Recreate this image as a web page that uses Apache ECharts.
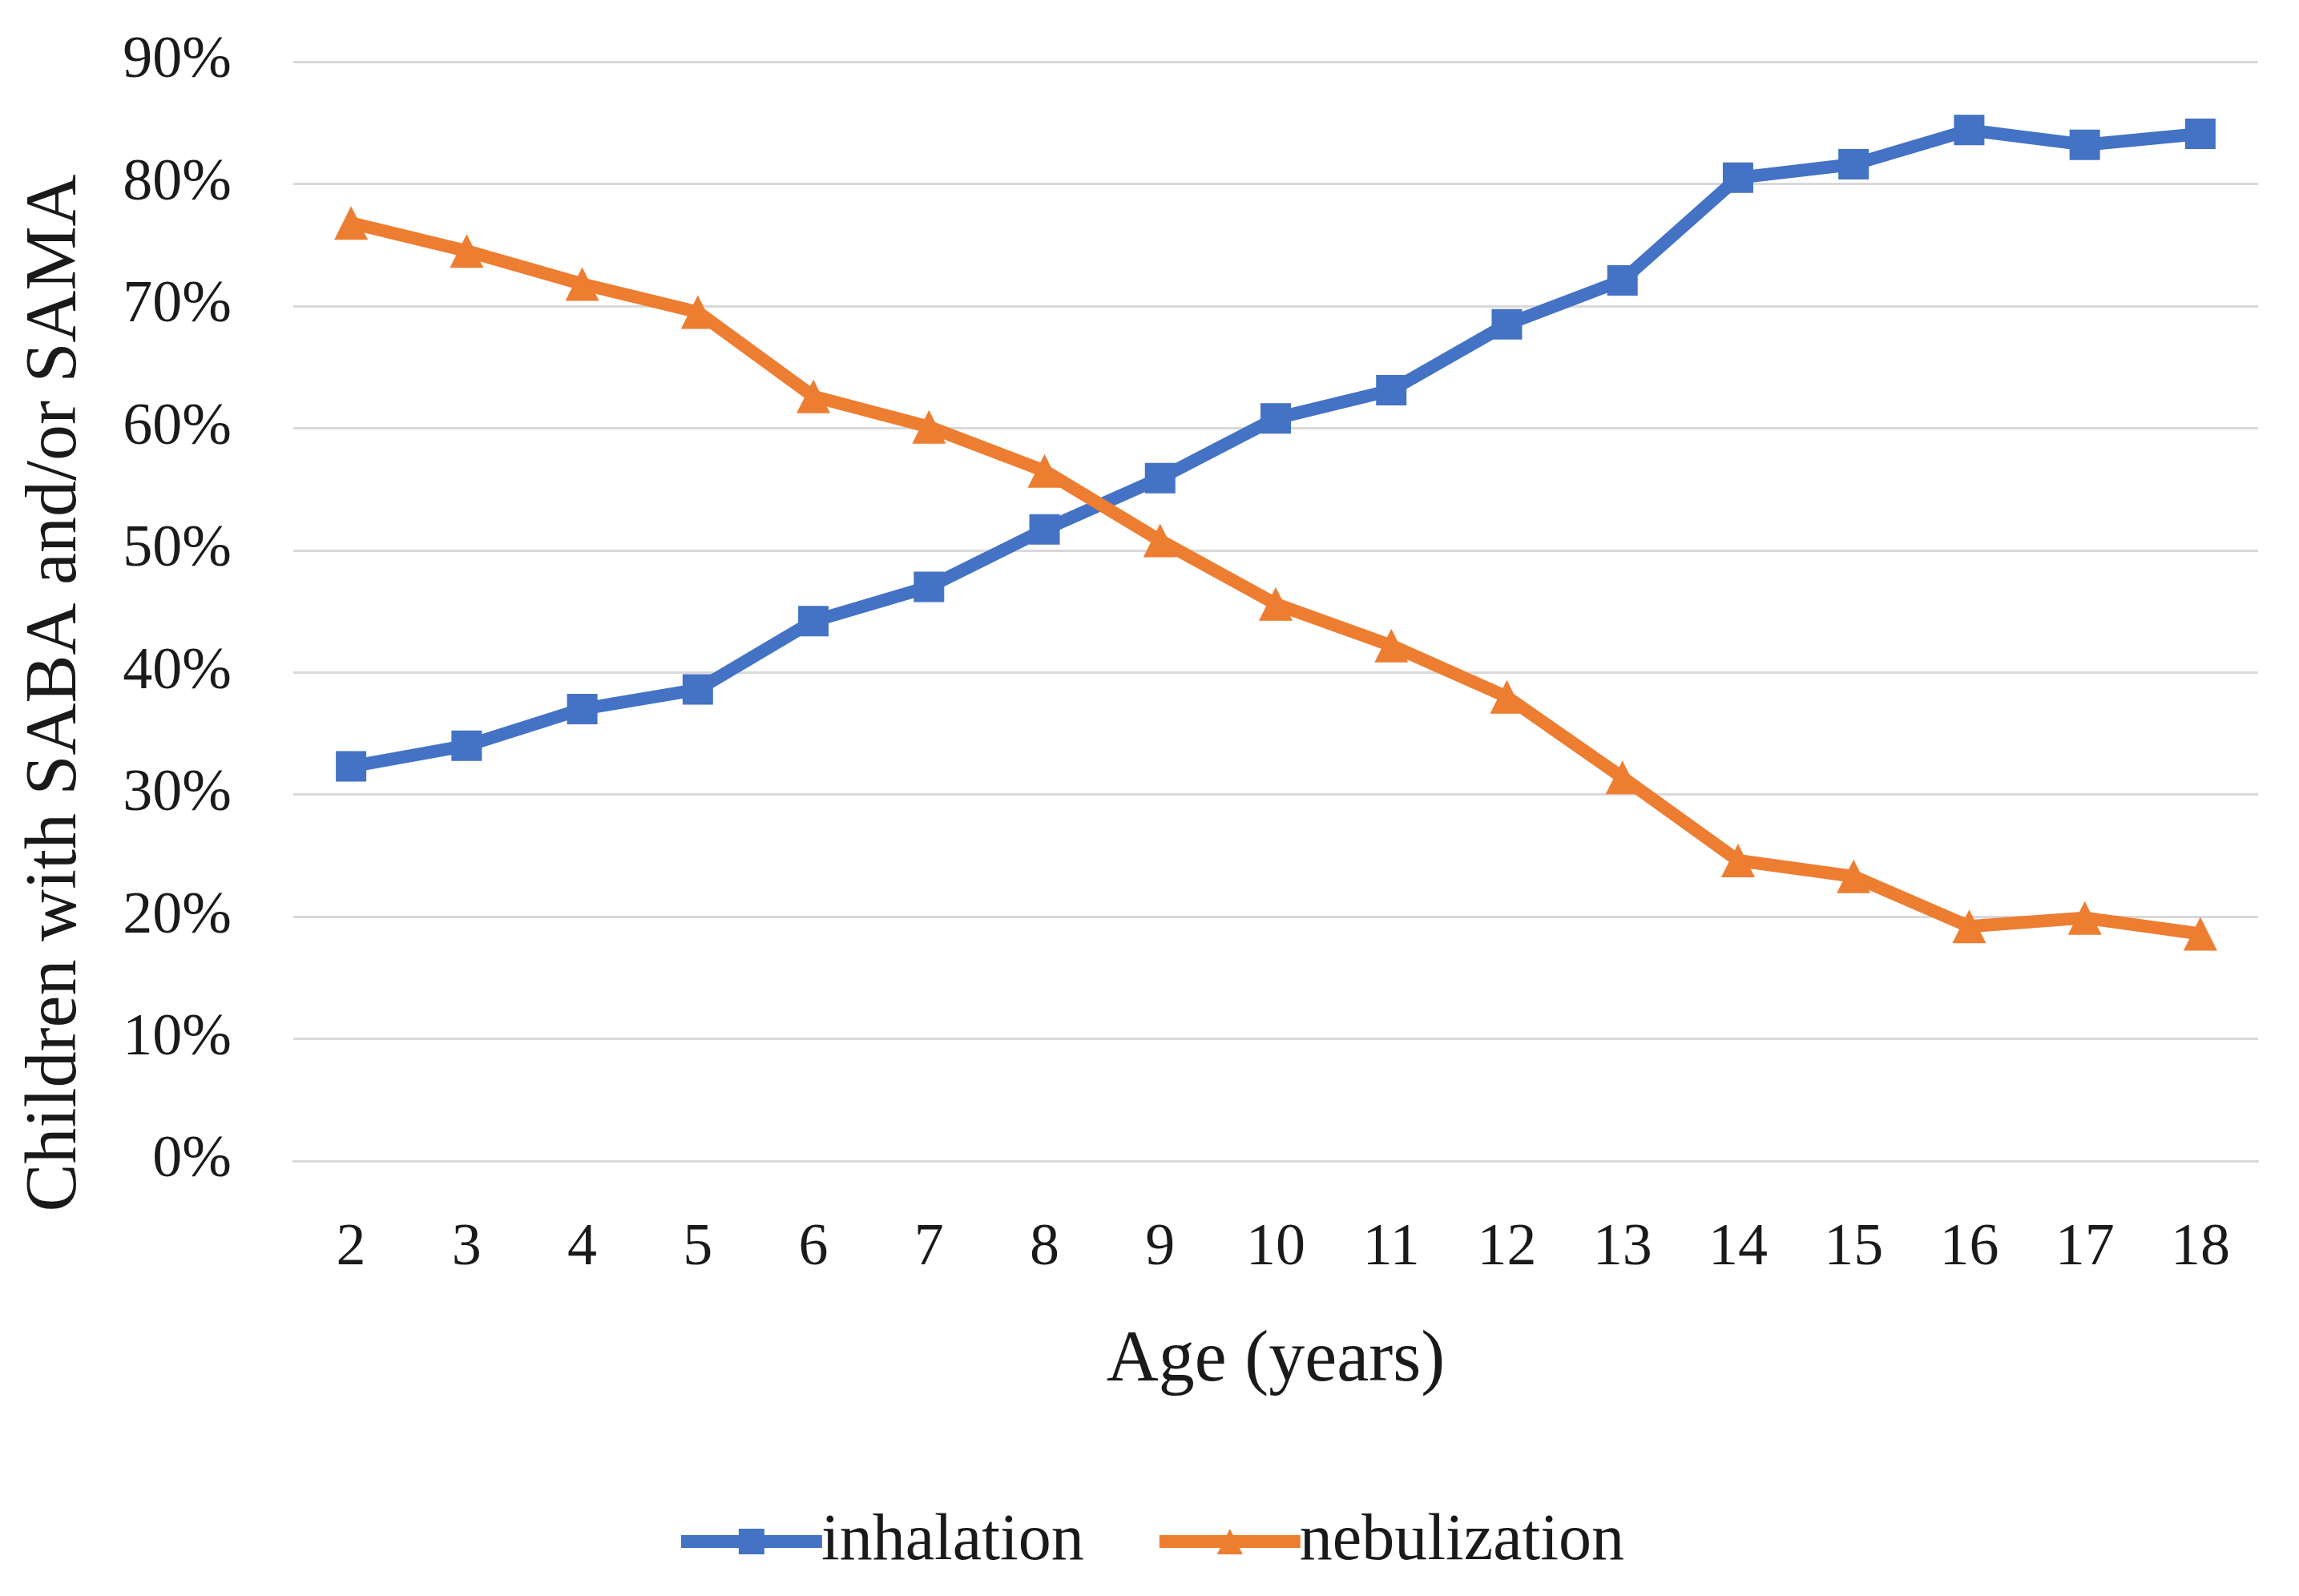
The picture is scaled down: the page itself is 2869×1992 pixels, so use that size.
<!DOCTYPE html>
<html>
<head>
<meta charset="utf-8">
<script src="https://cdn.jsdelivr.net/npm/echarts@6/dist/echarts.min.js"></script>
<style>html,body{margin:0;padding:0;background:#fff}#c{width:2869px;height:1992px}</style>
</head>
<body>
<div id="c"></div>
<script>
const ages = ['2','3','4','5','6','7','8','9','10','11','12','13','14','15','16','17','18'];
const inhalation = [32.3,34.0,37.0,38.6,44.2,47.0,51.7,55.9,60.8,63.1,68.5,72.1,80.5,81.6,84.4,83.2,84.1];
const nebulization = [76.8,74.5,71.8,69.5,62.6,60.1,56.5,50.8,45.6,42.2,38.0,31.4,24.6,23.3,19.2,19.9,18.6];
const yTicks = {min:0, max:90, interval:10};

const font = 'Liberation Serif';
const chart = echarts.init(document.getElementById('c'));
chart.setOption({
  animation:false,
  backgroundColor:'#ffffff',
  grid:{left:366,right:51,top:77,bottom:543},
  legend:{
    bottom:22, left:'center',
    itemWidth:176, itemHeight:40, itemGap:86,
    lineStyle:{width:16},
    textStyle:{fontFamily:font,fontSize:82,color:'#1a1a1a',padding:[0,0,0,-6]},
    data:['inhalation','nebulization']
  },
  xAxis:{
    type:'category', data:ages, boundaryGap:true,
    axisLine:{show:true,lineStyle:{color:'#d9d9d9',width:3}},
    axisTick:{show:false},
    axisLabel:{fontFamily:font,fontSize:74,color:'#1a1a1a',margin:73},
    name:'Age (years)', nameLocation:'middle', nameGap:205,
    nameTextStyle:{fontFamily:font,fontSize:90,color:'#1a1a1a'}
  },
  yAxis:{
    type:'value', min:yTicks.min, max:yTicks.max, interval:yTicks.interval,
    axisLine:{show:false}, axisTick:{show:false},
    splitLine:{lineStyle:{color:'#d9d9d9',width:3}},
    axisLabel:{fontFamily:font,fontSize:74,color:'#1a1a1a',margin:77,formatter:'{value}%'}
  },
  graphic:[{
    type:'text', x:70, y:865, rotation:Math.PI/2,
    style:{text:'Children with SABA and/or SAMA',fontFamily:font,fontSize:90,fill:'#1a1a1a',textAlign:'center',textVerticalAlign:'middle'}
  }],
  series:[
    {name:'inhalation',type:'line',data:inhalation,symbol:'rect',symbolSize:38,
     lineStyle:{color:'#4472C4',width:16},itemStyle:{color:'#4472C4'}},
    {name:'nebulization',type:'line',data:nebulization,symbol:'triangle',symbolSize:42,
     lineStyle:{color:'#ED7D31',width:16},itemStyle:{color:'#ED7D31'}}
  ]
});
</script>
</body>
</html>
